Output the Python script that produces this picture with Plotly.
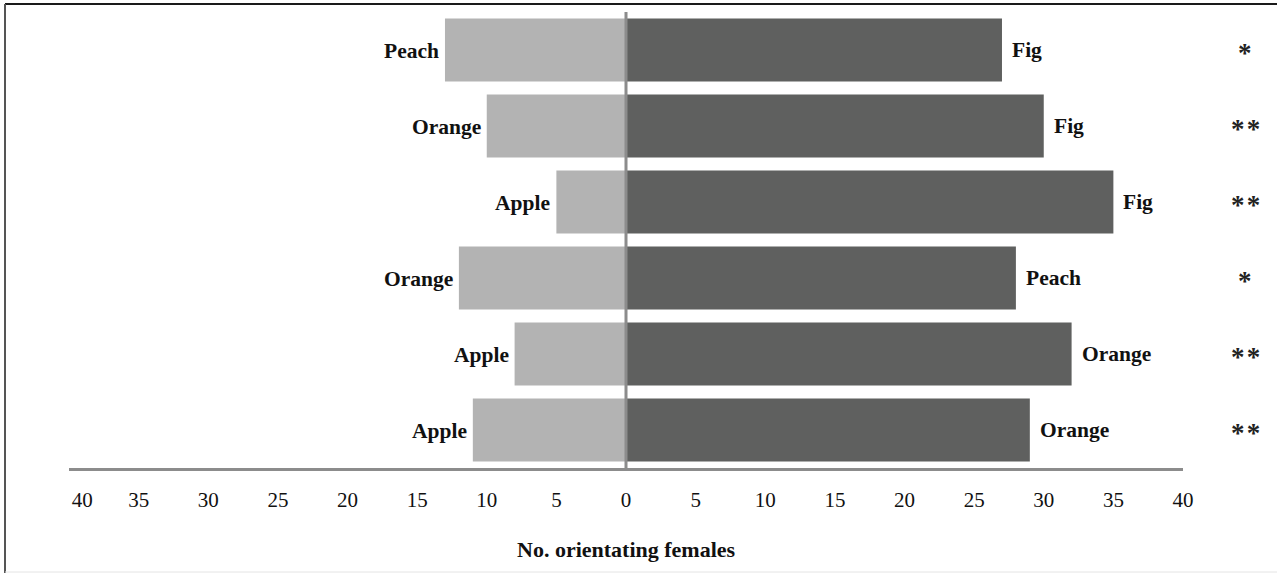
import plotly.graph_objects as go

# Paired choice tests: each row pits one odour against another
rows = ["r1", "r2", "r3", "r4", "r5", "r6"]
left_names = ["Peach", "Orange", "Apple", "Orange", "Apple", "Apple"]
left_counts = [13, 10, 5, 12, 8, 11]
right_names = ["Fig", "Fig", "Fig", "Peach", "Orange", "Orange"]
right_counts = [27, 30, 35, 28, 32, 29]
significance = ["*", "**", "**", "*", "**", "**"]

tick_vals = [-40, -35, -30, -25, -20, -15, -10, -5, 0, 5, 10, 15, 20, 25, 30, 35, 40]
tick_text = [str(abs(v)) for v in tick_vals]
# the outermost left label sits a little inside the axis end
tick_text[0] = "\u00a0" * 5 + tick_text[0]

W, H = 1277, 573
L, R, T, B = 69, 94, 12, 105
pw, ph = W - L - R, H - T - B


def px_x(p):
    return (p - L) / pw


def px_y(p):
    return (H - B - p) / ph


SERIF = "Liberation Serif, Times New Roman, serif"
LIGHT = "#b3b3b3"
DARK = "#5f605f"
AXIS = "#8c8c8c"

fig = go.Figure()
fig.add_trace(go.Bar(
    y=rows, x=[-v for v in left_counts], orientation="h",
    marker=dict(color=LIGHT, line=dict(width=0)),
    hoverinfo="skip", showlegend=False,
))
fig.add_trace(go.Bar(
    y=rows, x=right_counts, orientation="h",
    marker=dict(color=DARK, line=dict(width=0)),
    hoverinfo="skip", showlegend=False,
))

annotations = []
for r, name, v in zip(rows, left_names, left_counts):
    annotations.append(dict(
        x=-v, y=r, xref="x", yref="y", text=f"<b>{name}</b>", showarrow=False,
        xanchor="right", yanchor="middle", xshift=-4, yshift=-1,
        font=dict(family=SERIF, size=21.5, color="#111"),
    ))
for r, name, v in zip(rows, right_names, right_counts):
    annotations.append(dict(
        x=v, y=r, xref="x", yref="y", text=f"<b>{name}</b>", showarrow=False,
        xanchor="left", yanchor="middle", xshift=8,
        font=dict(family=SERIF, size=21.5, color="#111"),
    ))
for r, s in zip(rows, significance):
    annotations.append(dict(
        x=px_x(1245), y=r, xref="paper", yref="y", text=f"<b>{chr(0x200a).join(s)}</b>",
        showarrow=False, xanchor="center", yanchor="middle", yshift=-3,
        font=dict(family=SERIF, size=27, color="#222"),
    ))
annotations.append(dict(
    x=0.5, y=px_y(549), xref="paper", yref="paper",
    text="<b>No. orientating females</b>", showarrow=False,
    xanchor="center", yanchor="middle",
    font=dict(family=SERIF, size=22, color="#111"),
))

shapes = [
    # zero divider
    dict(type="line", xref="x", yref="paper", x0=0, x1=0, y0=0, y1=px_y(12),
         line=dict(color=AXIS, width=3)),
    # outer frame
    dict(type="line", xref="paper", yref="paper", x0=px_x(5), x1=px_x(W + 5),
         y0=px_y(4), y1=px_y(4), line=dict(color="#1a1a1a", width=2)),
    dict(type="line", xref="paper", yref="paper", x0=px_x(5), x1=px_x(5),
         y0=px_y(4), y1=px_y(H + 5), line=dict(color="#555", width=2)),
    dict(type="line", xref="paper", yref="paper", x0=px_x(5), x1=px_x(W + 5),
         y0=px_y(572), y1=px_y(572), line=dict(color="#e4e4e4", width=1)),
]

fig.update_layout(
    width=W, height=H,
    margin=dict(l=L, r=R, t=T, b=B),
    paper_bgcolor="white", plot_bgcolor="white",
    barmode="overlay", bargap=0.17,
    annotations=annotations, shapes=shapes,
    xaxis=dict(
        range=[-40, 40], tickvals=tick_vals, ticktext=tick_text,
        showgrid=False, zeroline=False, showline=True,
        linecolor=AXIS, linewidth=3, ticks="",
        tickfont=dict(family=SERIF, size=21, color="#111"),
        ticklabelstandoff=11, fixedrange=True,
    ),
    yaxis=dict(
        categoryorder="array", categoryarray=rows, autorange="reversed",
        showticklabels=False, showgrid=False, zeroline=False,
        showline=False, ticks="", fixedrange=True,
    ),
)

fig.write_html("out.html")
